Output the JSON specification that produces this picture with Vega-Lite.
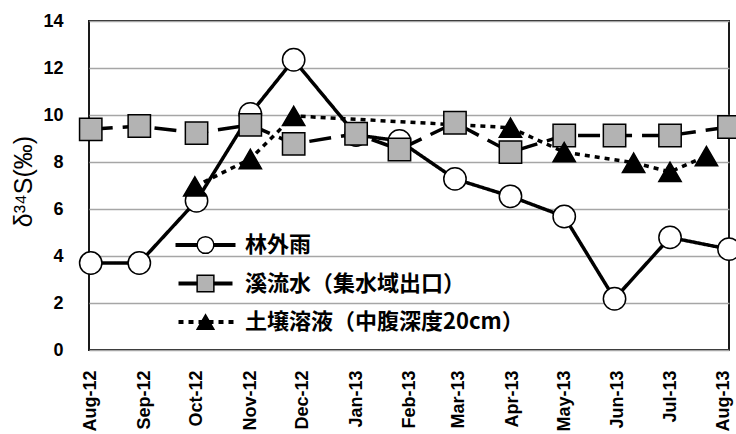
{
  "$schema": "https://vega.github.io/schema/vega-lite/v6.json",
  "width": 640,
  "height": 329,
  "autosize": "none",
  "padding": {"left": 89, "top": 21, "right": 7, "bottom": 84},
  "background": "white",
  "config": {
    "view": {"stroke": "#1a1a1a", "strokeWidth": 2},
    "axis": {"labelFont": "Liberation Sans", "labelFontWeight": "bold", "labelFontSize": 18, "labelColor": "black", "ticks": false, "domain": false},
    "legend": {"orient": "none", "legendY": 212, "title": null, "labelFont": "Noto Sans CJK JP", "labelFontSize": 22, "labelFontWeight": "bold", "labelColor": "black", "clipHeight": 24, "rowPadding": 14.5, "padding": 0, "labelLimit": 400}
  },
  "data": {"values": [
    {"date": "2012-08-01", "value": 3.7, "series": "林外雨"},
    {"date": "2012-08-29", "value": 3.7, "series": "林外雨"},
    {"date": "2012-10-01", "value": 6.35, "series": "林外雨"},
    {"date": "2012-11-01", "value": 10.05, "series": "林外雨"},
    {"date": "2012-11-26", "value": 12.35, "series": "林外雨"},
    {"date": "2013-01-01", "value": 9.15, "series": "林外雨"},
    {"date": "2013-01-26", "value": 8.9, "series": "林外雨"},
    {"date": "2013-02-27", "value": 7.28, "series": "林外雨"},
    {"date": "2013-03-31", "value": 6.54, "series": "林外雨"},
    {"date": "2013-05-01", "value": 5.68, "series": "林外雨"},
    {"date": "2013-05-30", "value": 2.18, "series": "林外雨"},
    {"date": "2013-07-01", "value": 4.79, "series": "林外雨"},
    {"date": "2013-08-04", "value": 4.29, "series": "林外雨"},
    {"date": "2012-08-01", "value": 9.39, "series": "溪流水（集水域出口）"},
    {"date": "2012-08-29", "value": 9.53, "series": "溪流水（集水域出口）"},
    {"date": "2012-10-01", "value": 9.23, "series": "溪流水（集水域出口）"},
    {"date": "2012-11-01", "value": 9.58, "series": "溪流水（集水域出口）"},
    {"date": "2012-11-26", "value": 8.77, "series": "溪流水（集水域出口）"},
    {"date": "2013-01-01", "value": 9.2, "series": "溪流水（集水域出口）"},
    {"date": "2013-01-26", "value": 8.53, "series": "溪流水（集水域出口）"},
    {"date": "2013-02-27", "value": 9.67, "series": "溪流水（集水域出口）"},
    {"date": "2013-03-31", "value": 8.42, "series": "溪流水（集水域出口）"},
    {"date": "2013-05-01", "value": 9.13, "series": "溪流水（集水域出口）"},
    {"date": "2013-05-30", "value": 9.13, "series": "溪流水（集水域出口）"},
    {"date": "2013-07-01", "value": 9.13, "series": "溪流水（集水域出口）"},
    {"date": "2013-08-04", "value": 9.49, "series": "溪流水（集水域出口）"},
    {"date": "2012-09-30", "value": 6.96, "series": "土壌溶液（中腹深度20cm）"},
    {"date": "2012-11-01", "value": 8.13, "series": "土壌溶液（中腹深度20cm）"},
    {"date": "2012-11-26", "value": 9.96, "series": "土壌溶液（中腹深度20cm）"},
    {"date": "2013-03-31", "value": 9.46, "series": "土壌溶液（中腹深度20cm）"},
    {"date": "2013-05-01", "value": 8.42, "series": "土壌溶液（中腹深度20cm）"},
    {"date": "2013-06-10", "value": 7.97, "series": "土壌溶液（中腹深度20cm）"},
    {"date": "2013-07-01", "value": 7.58, "series": "土壌溶液（中腹深度20cm）"},
    {"date": "2013-07-22", "value": 8.25, "series": "土壌溶液（中腹深度20cm）"}
  ]},
  "encoding": {
    "x": {
      "field": "date", "type": "temporal",
      "scale": {"type": "utc", "domain": [{"year": 2012, "month": "jul", "date": 31, "utc": true}, {"year": 2013, "month": "aug", "date": 4, "utc": true}]},
      "axis": {"title": null, "format": "%b-%y", "tickCount": {"interval": "month", "step": 1}, "labelAngle": -90, "labelPadding": 20, "grid": false, "labelOverlap": false, "labelFlush": false, "labelBound": false}
    },
    "y": {
      "field": "value", "type": "quantitative",
      "scale": {"domain": [0, 14], "nice": false},
      "axis": {"title": "δ³⁴S(‰)", "titleFont": "Liberation Sans", "titleFontWeight": "normal", "titleFontSize": 25, "titleColor": "black", "titleAngle": -90, "titleX": -66, "titleY": 160, "titleAlign": "center", "titleBaseline": "middle", "values": [0, 2, 4, 6, 8, 10, 12, 14], "grid": true, "gridColor": "#a6a6a6", "gridWidth": 1.5, "labelPadding": 26}
    }
  },
  "layer": [
    {
      "mark": {"type": "line", "strokeWidth": 3.5, "color": "black"},
      "encoding": {
        "strokeDash": {
          "field": "series", "type": "nominal",
          "sort": ["林外雨", "溪流水（集水域出口）", "土壌溶液（中腹深度20cm）"],
          "scale": {"range": [[1, 0], [22, 10], [5, 5]]},
          "legend": {"legendX": 84.5, "symbolType": "stroke", "symbolSize": 3600, "symbolStrokeWidth": 4, "symbolStrokeColor": "black", "symbolDashOffset": -3, "labelOffset": 7.5, "zindex": 0}
        }
      }
    },
    {
      "mark": {"type": "point", "filled": true, "size": 500, "strokeWidth": 1.5, "opacity": 1},
      "encoding": {
        "shape": {
          "field": "series", "type": "nominal",
          "scale": {"domain": ["林外雨", "溪流水（集水域出口）", "土壌溶液（中腹深度20cm）"], "range": ["circle", "square", "triangle-up"]},
          "legend": {"legendX": 105.5, "symbolSize": 280, "symbolStrokeWidth": 1.5, "labelOpacity": 0, "labelOffset": 28.5, "zindex": 1}
        },
        "fill": {
          "field": "series", "type": "nominal",
          "scale": {"domain": ["林外雨", "溪流水（集水域出口）", "土壌溶液（中腹深度20cm）"], "range": ["white", "#b3b3b3", "black"]},
          "legend": {"legendX": 105.5, "symbolSize": 280, "symbolStrokeWidth": 1.5, "labelOpacity": 0, "labelOffset": 28.5, "zindex": 1}
        },
        "stroke": {
          "field": "series", "type": "nominal",
          "scale": {"domain": ["林外雨", "溪流水（集水域出口）", "土壌溶液（中腹深度20cm）"], "range": ["black", "black", "black"]},
          "legend": {"legendX": 105.5, "symbolSize": 280, "symbolStrokeWidth": 1.5, "labelOpacity": 0, "labelOffset": 28.5, "zindex": 1}
        }
      }
    }
  ]
}
